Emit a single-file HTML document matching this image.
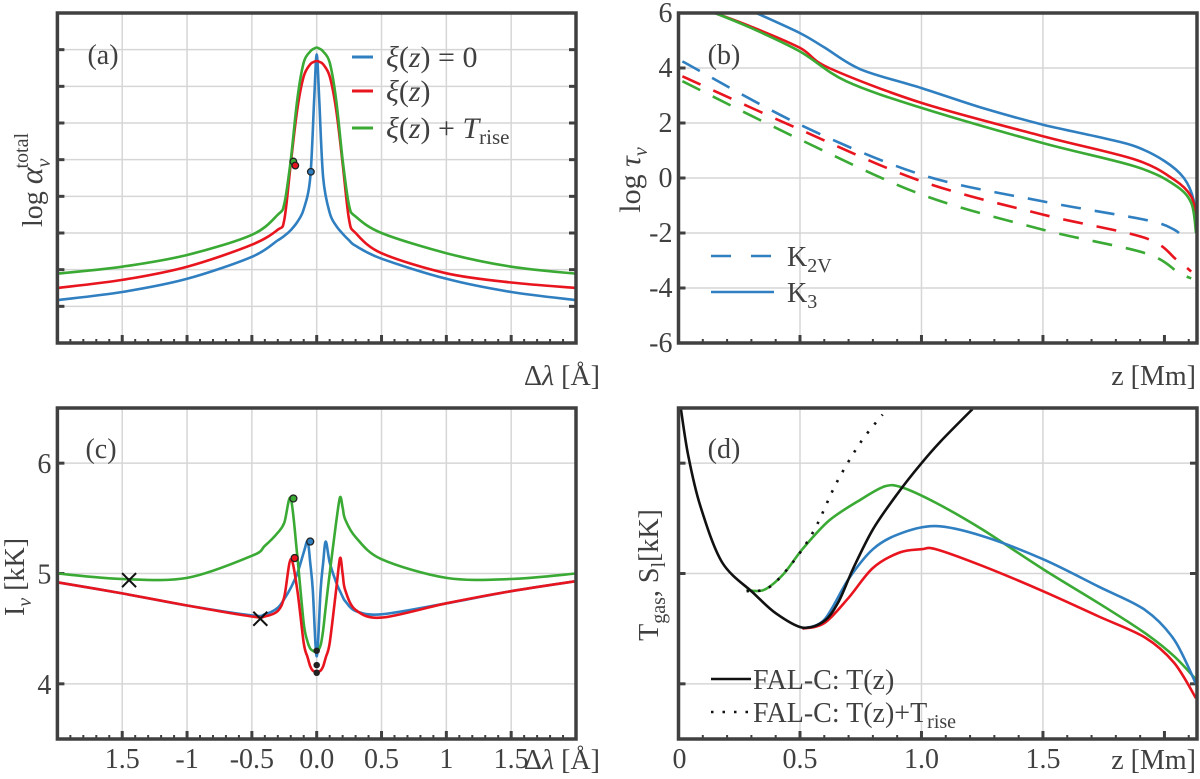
<!DOCTYPE html>
<html><head><meta charset="utf-8"><style>
body{margin:0;background:#fff}
svg{display:block}
text,tspan{font-family:"Liberation Serif","DejaVu Serif",serif;fill:#404040}
</style></head><body>
<svg id="fig" width="1200" height="779" viewBox="0 0 1200 779" xmlns="http://www.w3.org/2000/svg" font-family="Liberation Serif, serif"></svg>
<script>
// ---------- data ----------
const aX=[-2,-1.5,-1,-0.5,-0.3,-0.25,-0.2,-0.15,-0.1,-0.05,-0.02,0,0.02,0.05,0.1,0.15,0.2,0.25,0.3,0.5,1,1.5,2];
const aBlue=[1.17,1.39,1.75,2.35,2.8,2.92,3.08,3.3,3.65,4.5,6.6,7.87,6.6,4.5,3.55,3.2,2.98,2.8,2.65,2.3,1.75,1.39,1.17];
const aRed=[1.5,1.72,2.08,2.68,3.09,3.36,4.9,6.37,7.27,7.6,7.67,7.69,7.67,7.6,7.27,6.37,4.9,3.36,3.0,2.45,1.9,1.65,1.5];
const aGreen=[1.89,2.08,2.4,2.95,3.5,3.8,5.0,6.64,7.65,7.95,8.03,8.06,8.03,7.95,7.65,6.64,5.0,3.75,3.45,3.0,2.45,2.08,1.89];
const aDotsX=[-0.18,-0.165,-0.045];
const aDotsY=[4.95,4.84,4.67];

const bBlueX=[0.32,0.5,0.6,0.75,1.0,1.25,1.5,1.75,1.88,2.0,2.08,2.12,2.13];
const bBlue=[6,5.27,4.75,3.95,3.27,2.55,1.94,1.45,1.15,0.62,0.0,-0.8,-1.8];
const bRedX=[0.15,0.3,0.5,0.62,1.0,1.5,1.88,2.04,2.11,2.13];
const bRed=[6,5.5,4.73,4.0,2.73,1.52,0.67,-0.06,-0.67,-1.4];
const bGreenX=[0.15,0.3,0.5,0.69,1.0,1.5,1.88,2.04,2.11,2.13];
const bGreen=[6,5.45,4.6,3.52,2.55,1.27,0.42,-0.24,-0.9,-2];
const bBlueDX=[0.016,0.5,1.0,1.5,1.92,2.04,2.1];
const bBlueD=[4.24,1.94,0.12,-0.85,-1.52,-1.88,-2.36];
const bRedDX=[0.016,0.5,1.0,1.5,1.92,2.05,2.11];
const bRedD=[3.7,1.76,-0.12,-1.33,-2.18,-2.97,-3.4];
const bGreenDX=[0.016,0.5,1.0,1.5,1.92,2.06,2.11];
const bGreenD=[3.52,1.4,-0.6,-1.88,-2.73,-3.45,-3.65];

const cX=[-2,-1.5,-1,-0.5,-0.4,-0.3,-0.25,-0.2,-0.15,-0.1,-0.07,-0.05,-0.03,0,0.03,0.05,0.07,0.1,0.15,0.18,0.2,0.22,0.3,0.5,1,1.5,2];
const cRed=[4.92,4.82,4.71,4.61,4.61,4.66,4.79,5.13,4.85,4.37,4.24,4.16,4.12,4.11,4.12,4.16,4.24,4.37,4.85,5.14,5.0,4.85,4.67,4.6,4.73,4.84,4.93];
const cBlue=[4.92,4.82,4.71,4.62,4.63,4.69,4.77,4.87,5.0,5.19,5.29,5.1,4.85,4.25,4.85,5.1,5.29,5.1,4.92,4.84,4.79,4.75,4.66,4.63,4.73,4.84,4.93];
const cGreen=[5.0,4.95,4.96,5.16,5.25,5.37,5.46,5.68,5.16,4.55,4.38,4.32,4.3,4.29,4.35,4.49,4.7,5.0,5.46,5.69,5.6,5.49,5.33,5.13,4.96,4.95,5.0];
const cDotsX=[-0.18,-0.17,-0.05,0,0,0];
const cDotsY=[5.68,5.14,5.29,4.3,4.17,4.1];
const cCrossX=[-1.447,-0.435];
const cCrossY=[4.94,4.59];
const cTickLabels=["1.5","-1","-0.5","0.0","0.5","1","1.5"];

const dBlackX=[0.01,0.04,0.09,0.18,0.31,0.4,0.51,0.6,0.66,0.72,0.8,0.9,1.0,1.08,1.21];
const dBlack=[6.49,6.07,5.61,5.1,4.82,4.64,4.51,4.57,4.75,5.05,5.4,5.72,6.0,6.2,6.49];
const dDotX=[0.28,0.37,0.47,0.56,0.65,0.75,0.84];
const dDot=[4.84,4.87,5.1,5.4,5.82,6.19,6.44];
const dGreenX=[0.28,0.35,0.43,0.51,0.62,0.75,0.85,0.92,1.06,1.25,1.5,1.73,1.92,2.04,2.13];
const dGreen=[4.85,4.85,4.99,5.22,5.48,5.67,5.79,5.78,5.64,5.4,5.04,4.73,4.46,4.25,4.04];
const dBlueX=[0.51,0.6,0.7,0.8,0.91,1.06,1.25,1.5,1.73,1.92,2.04,2.13];
const dBlue=[4.5,4.58,4.95,5.22,5.36,5.43,5.34,5.13,4.88,4.67,4.4,4.0];
const dRedX=[0.51,0.6,0.7,0.8,0.91,1.0,1.06,1.25,1.5,1.73,1.92,2.04,2.13];
const dRed=[4.5,4.55,4.78,5.05,5.19,5.22,5.22,5.07,4.84,4.61,4.42,4.19,3.87];

// ---------- helpers ----------
const NS="http://www.w3.org/2000/svg";
const svg=document.getElementById('fig');
const BLUE="#2f7fc1",RED="#e8141e",GREEN="#3aaa35",AX="#404040";
const FF='"Liberation Serif", "DejaVu Serif", serif';
function mk(tag,attrs,parent){const e=document.createElementNS(NS,tag);for(const k in attrs)e.setAttribute(k,attrs[k]);(parent||svg).appendChild(e);return e;}
function lin(d0,d1,p0,p1){return v=>p0+(v-d0)*(p1-p0)/(d1-d0);}
function smooth(pts){let d="M"+pts[0][0].toFixed(1)+","+pts[0][1].toFixed(1);
 for(let i=0;i<pts.length-1;i++){const p0=pts[Math.max(i-1,0)],p1=pts[i],p2=pts[i+1],p3=pts[Math.min(i+2,pts.length-1)];
 const t=0.16;const c1=[p1[0]+(p2[0]-p0[0])*t,p1[1]+(p2[1]-p0[1])*t],c2=[p2[0]-(p3[0]-p1[0])*t,p2[1]-(p3[1]-p1[1])*t];
 d+=" C"+c1[0].toFixed(1)+","+c1[1].toFixed(1)+" "+c2[0].toFixed(1)+","+c2[1].toFixed(1)+" "+p2[0].toFixed(1)+","+p2[1].toFixed(1);}return d;}
function series(g,xs,ys,sx,sy,color,name,dash){
 const p=mk('path',{d:smooth(xs.map((x,i)=>[sx(x),sy(ys[i])])),fill:'none',stroke:color,'stroke-width':2.6,'stroke-dasharray':dash||'none'},g);
 
 
 return p;}
function txt(g,x,y,s,attrs){const t=mk('text',Object.assign({x:x,y:y,'font-family':FF},attrs||{}),g);t.innerHTML=s;return t;}

const L1=57.4,R1=576,L2=678.5,R2=1197,T1=13,B1=343,T2=408,B2=739;
const TS=28;

// ---------- panel a ----------
{
const g=mk('g',{});
const sx=lin(-2,2,L1,R1),sy=lin(0,9,B1,T1);
for(let v=-1.5;v<=1.51;v+=0.5)mk('line',{x1:sx(v),x2:sx(v),y1:T1,y2:B1,stroke:'#d6d6d6','stroke-width':1.5},g);
for(let v=1;v<=8;v++)mk('line',{x1:L1,x2:R1,y1:sy(v),y2:sy(v),stroke:'#d6d6d6','stroke-width':1.5},g);
for(let v=1;v<=8;v++){mk('line',{x1:L1,x2:L1+7,y1:sy(v),y2:sy(v),stroke:AX,'stroke-width':3},g);mk('line',{x1:R1,x2:R1-7,y1:sy(v),y2:sy(v),stroke:AX,'stroke-width':3},g);}
for(let i=-19;i<=19;i++){const v=i/10;const maj=(i%5===0);mk('line',{x1:sx(v),x2:sx(v),y1:B1,y2:B1-(maj?8:4),stroke:AX,'stroke-width':maj?3:2},g);}
series(g,aX,aBlue,sx,sy,BLUE,'series-xi-zero');
series(g,aX,aRed,sx,sy,RED,'series-xi');
series(g,aX,aGreen,sx,sy,GREEN,'series-xi-trise');
const cols=[GREEN,RED,BLUE];
aDotsX.forEach((x,i)=>{const c=mk('circle',{cx:sx(x),cy:sy(aDotsY[i]),r:3.3,fill:cols[i],stroke:'#222','stroke-width':1.3},g);
 
 });
mk('rect',{x:L1,y:T1,width:R1-L1,height:B1-T1,fill:'none',stroke:AX,'stroke-width':3.5},g);
txt(g,103,64,'(a)',{'font-size':TS,'text-anchor':'middle',});
const leg=[[BLUE,57,'<tspan font-style="italic">ξ</tspan>(<tspan font-style="italic">z</tspan>) = 0'],[RED,91,'<tspan font-style="italic">ξ</tspan>(<tspan font-style="italic">z</tspan>)'],[GREEN,128,'<tspan font-style="italic">ξ</tspan>(<tspan font-style="italic">z</tspan>) + <tspan font-style="italic">T</tspan><tspan font-size="21" dy="6">rise</tspan>']];
leg.forEach(l=>{mk('line',{x1:352,x2:373,y1:l[1],y2:l[1],stroke:l[0],'stroke-width':3},g);txt(g,386,l[1]+10,l[2],{'font-size':30,});});
txt(g,600,385,'Δ<tspan font-style="italic">λ</tspan> [Å]',{'font-size':TS,'text-anchor':'end',});
txt(g,0,0,'log <tspan font-style="italic" font-size="32">α</tspan><tspan font-size="20" dy="8" font-style="italic">ν</tspan><tspan font-size="20" dy="-22" dx="-10">total</tspan>',{'font-size':TS,'text-anchor':'middle',transform:'translate(42,180) rotate(-90)',});
}

// ---------- panel b ----------
{
const g=mk('g',{});
const sx=lin(0,2.134,L2,R2),sy=lin(-6,6,B1,T1);
for(let v=0.5;v<=1.51;v+=0.5)mk('line',{x1:sx(v),x2:sx(v),y1:T1,y2:B1,stroke:'#d6d6d6','stroke-width':1.5},g);
for(let v=-4;v<=4;v+=2)mk('line',{x1:L2,x2:R2,y1:sy(v),y2:sy(v),stroke:'#d6d6d6','stroke-width':1.5},g);
for(let v=-6;v<=6;v+=2){mk('line',{x1:L2,x2:L2+7,y1:sy(v),y2:sy(v),stroke:AX,'stroke-width':3},g);
 txt(g,L2-6,sy(v)+9,v,{'font-size':TS,'text-anchor':'end',});}
for(let i=1;i<=21;i++){const v=i/10;const maj=(i%5===0);mk('line',{x1:sx(v),x2:sx(v),y1:B1,y2:B1-(maj?8:4),stroke:AX,'stroke-width':maj?3:2},g);}
series(g,bBlueX,bBlue,sx,sy,BLUE,'k3-xi-zero');
series(g,bRedX,bRed,sx,sy,RED,'k3-xi');
series(g,bGreenX,bGreen,sx,sy,GREEN,'k3-xi-trise');
series(g,bBlueDX,bBlueD,sx,sy,BLUE,'k2v-xi-zero','20,14');
series(g,bRedDX,bRedD,sx,sy,RED,'k2v-xi','20,14');
series(g,bGreenDX,bGreenD,sx,sy,GREEN,'k2v-xi-trise','20,14');
mk('rect',{x:L2,y:T1,width:R2-L2,height:B1-T1,fill:'none',stroke:AX,'stroke-width':3.5},g);
txt(g,724,64,'(b)',{'font-size':TS,'text-anchor':'middle',});
mk('line',{x1:711,x2:774,y1:256,y2:256,stroke:BLUE,'stroke-width':2.6,'stroke-dasharray':'20,20'},g);
txt(g,787,266,'K<tspan font-size="20" dy="6">2V</tspan>',{'font-size':TS,});
mk('line',{x1:711,x2:774,y1:292,y2:292,stroke:BLUE,'stroke-width':2.6},g);
txt(g,787,302,'K<tspan font-size="20" dy="6">3</tspan>',{'font-size':TS,});
txt(g,1196,385,'z [Mm]',{'font-size':TS,'text-anchor':'end',});
txt(g,0,0,'log <tspan font-style="italic">τ</tspan><tspan font-size="20" dy="7" font-style="italic">ν</tspan>',{'font-size':30,'text-anchor':'middle',transform:'translate(640,180) rotate(-90)',});
}

// ---------- panel c ----------
{
const g=mk('g',{});
const sx=lin(-2,2,L1,R1),sy=lin(3.5,6.5,B2,T2);
for(let v=-1.5;v<=1.51;v+=0.5)mk('line',{x1:sx(v),x2:sx(v),y1:T2,y2:B2,stroke:'#d6d6d6','stroke-width':1.5},g);
for(let v=4;v<=6;v++){mk('line',{x1:L1,x2:R1,y1:sy(v),y2:sy(v),stroke:'#d6d6d6','stroke-width':1.5},g);
 mk('line',{x1:L1,x2:L1+7,y1:sy(v),y2:sy(v),stroke:AX,'stroke-width':3},g);
 txt(g,L1-6,sy(v)+10,v,{'font-size':TS,'text-anchor':'end',});}
for(let i=-19;i<=19;i++){const v=i/10;const maj=(i%5===0);mk('line',{x1:sx(v),x2:sx(v),y1:B2,y2:B2-(maj?8:4),stroke:AX,'stroke-width':maj?3:2},g);}
cTickLabels.forEach((l,i)=>txt(g,sx(-1.5+0.5*i),768,l,{'font-size':TS,'text-anchor':'middle',}));
series(g,cX,cBlue,sx,sy,BLUE,'profile-xi-zero');
series(g,cX,cGreen,sx,sy,GREEN,'profile-xi-trise');
series(g,cX,cRed,sx,sy,RED,'profile-xi');
const cols=[GREEN,RED,BLUE,'#222','#222','#222'];
cDotsX.forEach((x,i)=>{const c=mk('circle',{cx:sx(x),cy:sy(cDotsY[i]),r:i<3?3.5:2.6,fill:cols[i],stroke:'#222','stroke-width':1.3},g);
 
 });
cCrossX.forEach((x,i)=>{const X=sx(x),Y=sy(cCrossY[i]);const p=mk('path',{d:`M${X-7},${Y-7}L${X+7},${Y+7}M${X-7},${Y+7}L${X+7},${Y-7}`,stroke:'#111','stroke-width':2},g);
 
 });
mk('rect',{x:L1,y:T2,width:R1-L1,height:B2-T2,fill:'none',stroke:AX,'stroke-width':3.5},g);
txt(g,101,458,'(c)',{'font-size':TS,'text-anchor':'middle',});
txt(g,600,769,'Δ<tspan font-style="italic">λ</tspan> [Å]',{'font-size':TS,'text-anchor':'end',});
txt(g,0,0,'I<tspan font-size="20" dy="7" font-style="italic">ν</tspan><tspan dy="-7"> [kK]</tspan>',{'font-size':TS,'text-anchor':'middle',transform:'translate(24,577) rotate(-90)',});
}

// ---------- panel d ----------
{
const g=mk('g',{});
const sx=lin(0,2.134,L2,R2),sy=lin(3.5,6.5,B2,T2);
const cl=mk('clipPath',{id:'clipd'},g);mk('rect',{x:L2,y:T2,width:R2-L2,height:B2-T2},cl);
for(let v=0.5;v<=1.51;v+=0.5)mk('line',{x1:sx(v),x2:sx(v),y1:T2,y2:B2,stroke:'#d6d6d6','stroke-width':1.5},g);
for(let v=4;v<=6;v++){mk('line',{x1:L2,x2:R2,y1:sy(v),y2:sy(v),stroke:'#d6d6d6','stroke-width':1.5},g);
 mk('line',{x1:L2,x2:L2+7,y1:sy(v),y2:sy(v),stroke:AX,'stroke-width':3},g);mk('line',{x1:R2,x2:R2-7,y1:sy(v),y2:sy(v),stroke:AX,'stroke-width':3},g);}
for(let i=1;i<=21;i++){const v=i/10;const maj=(i%5===0);mk('line',{x1:sx(v),x2:sx(v),y1:B2,y2:B2-(maj?8:4),stroke:AX,'stroke-width':maj?3:2},g);}
["0","0.5","1.0","1.5"].forEach((l,i)=>txt(g,sx(0.5*i)+(i===0?1:0),768,l,{'font-size':TS,'text-anchor':'middle',}));
const cg=mk('g',{'clip-path':'url(#clipd)'},g);
series(cg,dGreenX,dGreen,sx,sy,GREEN,'source-xi-trise');
series(cg,dBlueX,dBlue,sx,sy,BLUE,'source-xi-zero');
series(cg,dRedX,dRed,sx,sy,RED,'source-xi');
series(cg,dDotX,dDot,sx,sy,'#111','fal-c-t-plus-trise','2.5,9');
series(cg,dBlackX,dBlack,sx,sy,'#111','fal-c-t');
mk('rect',{x:L2,y:T2,width:R2-L2,height:B2-T2,fill:'none',stroke:AX,'stroke-width':3.5},g);
txt(g,724,458,'(d)',{'font-size':TS,'text-anchor':'middle',});
mk('line',{x1:711,x2:751,y1:679,y2:679,stroke:'#111','stroke-width':2.6},g);
txt(g,753,689,'FAL-C: T(z)',{'font-size':TS,});
mk('line',{x1:711,x2:751,y1:712,y2:712,stroke:'#111','stroke-width':2.6,'stroke-dasharray':'2.5,9'},g);
txt(g,753,722,'FAL-C: T(z)+T<tspan font-size="20" dy="6">rise</tspan>',{'font-size':TS,});
txt(g,1196,769,'z [Mm]',{'font-size':TS,'text-anchor':'end',});
txt(g,0,0,'T<tspan font-size="20" dy="7">gas</tspan><tspan dy="-7">, S</tspan><tspan font-size="20" dy="7">l</tspan><tspan dy="-7">[kK]</tspan>',{'font-size':TS,'text-anchor':'middle',transform:'translate(658,575) rotate(-90)',});
}
</script>
</body></html>
